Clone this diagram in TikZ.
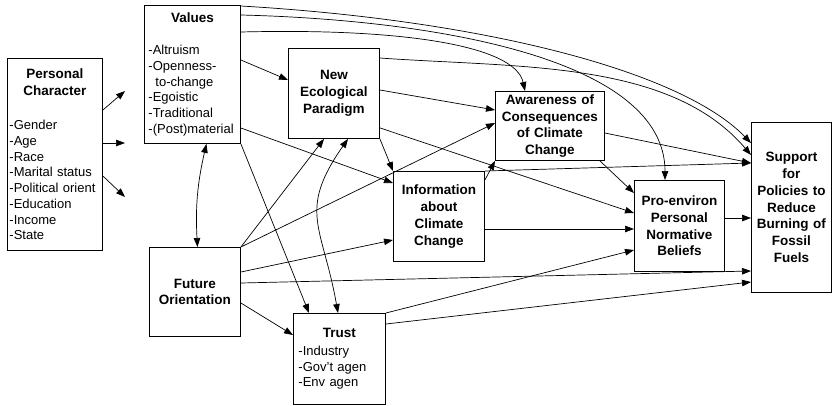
\documentclass[tikz,border=0pt]{standalone}
\usepackage{fontspec}
\setmainfont{Liberation Sans}
\usetikzlibrary{arrows.meta}
\setlength{\parindent}{0pt}
\newcommand{\boxtitle}[1]{{\centering\bfseries\fontsize{13.5}{17}\selectfont #1\par}}
\begin{document}
\begin{tikzpicture}[x=1pt,y=1pt,>={Triangle[length=9pt,width=6.5pt]},
  box/.style={draw,line width=0.9pt,anchor=north west,inner ysep=0pt,font=\fontsize{13}{15.7}\selectfont},
  listbox/.style={box,align=left},
  namebox/.style={box,align=center,inner xsep=0pt,font=\bfseries\fontsize{13.5}{16.8}\selectfont},
  link/.style={->,line width=0.7pt}]
\fill[white] (0,0) rectangle (832,-405);
\node[listbox,inner xsep=2pt,text width=91pt,minimum height=192pt] (pers) at (7,-58) {\boxtitle{Personal\\Character}\vskip18.3pt -Gender\\-Age\\-Race\\-Marital status\\-Political orient\\-Education\\-Income\\-State};
\node[listbox,inner xsep=4pt,text width=88pt,minimum height=138pt] (values) at (144,-5) {\boxtitle{Values}\vskip16.3pt -Altruism\\-Openness-\\\hspace*{7pt}to-change\\-Egoistic\\-Traditional\\-(Post)material};
\node[listbox,inner xsep=5pt,text width=82pt,minimum height=91pt] (trust) at (293,-313) {\boxtitle{Trust}\vskip2.3pt -Industry\\-Gov't agen\\-Env agen};
\node[namebox,text width=91pt,minimum height=90pt] (nep) at (288,-48) {New\\Ecological\\Paradigm};
\node[namebox,text width=109pt,minimum height=69pt] (aware) at (495,-91) {Awareness of\\Consequences\\of Climate\\Change};
\node[namebox,text width=91pt,minimum height=90pt] (info) at (393,-171) {Information\\about\\Climate\\Change};
\node[namebox,text width=90pt,minimum height=91pt] (norm) at (634,-180) {Pro-environ\\Personal\\Normative\\Beliefs};
\node[namebox,text width=80pt,minimum height=170pt] (support) at (751,-122) {Support\\for\\Policies to\\Reduce\\Burning of\\Fossil\\Fuels};
\node[namebox,text width=91pt,minimum height=89pt] (future) at (149,-247) {Future\\Orientation};
\coordinate (pc1) at (125,-91);
\coordinate (pc2) at (125,-143);
\coordinate (pc3) at (125,-197);
\draw[link] ([yshift=-52pt]pers.north east) -- (pc1);
\draw[link] ([yshift=-85pt]pers.north east) -- (pc2);
\draw[link] ([yshift=-118pt]pers.north east) -- (pc3);
\draw[link,<->] ([xshift=14pt]values.south) to[bend right=8] ([xshift=2.5pt]future.north);
\draw[link] ([yshift=-55pt]values.north east) -- ([yshift=-32pt]nep.north west);
\draw[link] ([yshift=-123pt]values.north east) -- ([yshift=-12pt]info.north west);
\draw[link] (values.south east) -- ([xshift=16pt]trust.north west);
\draw[link] ([yshift=-1pt]values.north east) .. controls (480,-20) and (680,-70) .. ([yshift=-21pt]support.north west);
\draw[link] ([yshift=-10pt]values.north east) .. controls (440,-20) and (665,-60) .. ([xshift=31pt]norm.north west);
\draw[link] ([yshift=-27pt]values.north east) .. controls (400,-28) and (515,-45) .. ([xshift=30pt]aware.north west);
\draw[link] ([yshift=-42pt]nep.north east) -- ([yshift=-19pt]aware.north west);
\draw[link] (nep.south east) -- (info.north west);
\draw[link] ([yshift=11pt]nep.south east) -- ([yshift=-33pt]norm.north west);
\draw[link] ([yshift=-10pt]nep.north east) .. controls (520,-68) and (670,-60) .. ([yshift=-33pt]support.north west);
\draw[link,<->] ([xshift=60pt]nep.south west) to[out=-125,in=100,looseness=1.3] ([xshift=45pt]trust.north west);
\draw[link] (future.north east) -- ([xshift=36pt]nep.south west);
\draw[link] (future.north east) -- ([yshift=-32pt]aware.north west);
\draw[link] ([yshift=-25pt]future.north east) -- ([yshift=-69pt]info.north west);
\draw[link] ([yshift=-36pt]future.north east) -- ([yshift=-149pt]support.north west);
\draw[link] ([yshift=-56pt]future.north east) -- ([yshift=-22pt]trust.north west);
\draw[link] ([yshift=-42pt]aware.north east) -- ([yshift=-41pt]support.north west);
\draw[link] (info.north east) -- ([yshift=-41pt]support.north west);
\draw[link] ([yshift=-9pt]info.north east) -- (aware.south west);
\draw[link] ([xshift=-5pt]aware.south east) -- ([yshift=-13pt]norm.north west);
\draw[link] ([yshift=-58pt]info.north east) -- ([yshift=-49pt]norm.north west);
\draw[link] ([yshift=-38pt]norm.north east) -- ([yshift=-96pt]support.north west);
\draw[link] (trust.north east) -- ([yshift=-70pt]norm.north west);
\draw[link] ([yshift=-11pt]trust.north east) -- ([yshift=-160pt]support.north west);
\end{tikzpicture}
\end{document}
